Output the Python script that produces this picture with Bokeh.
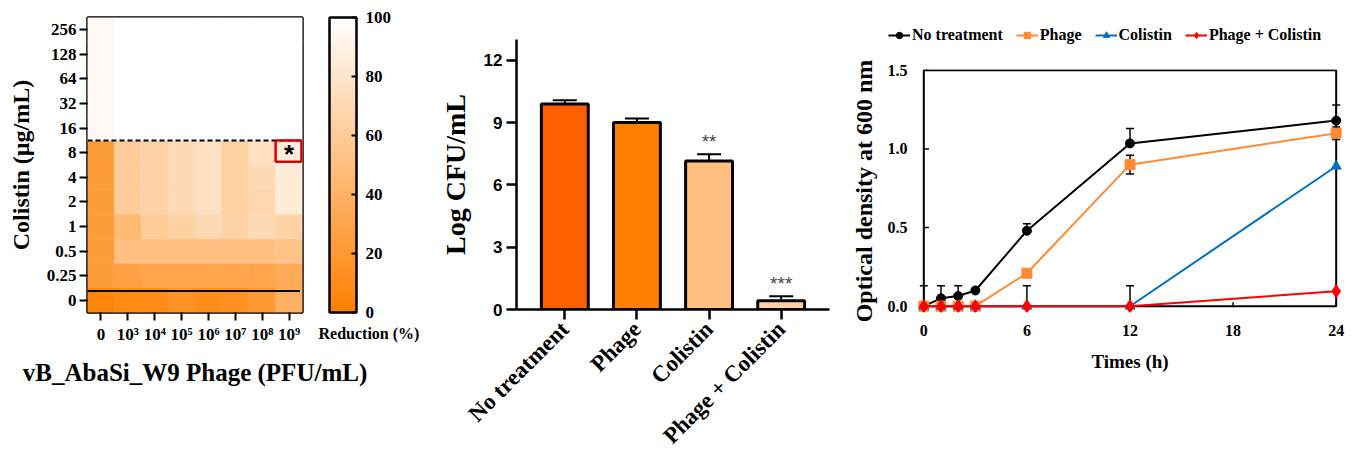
import numpy as np
from bokeh.plotting import figure
from bokeh.layouts import row, column
from bokeh.models import (ColumnDataSource, LinearColorMapper, ColorBar, FixedTicker,
                          Whisker, TeeHead, Legend, LegendItem, PrintfTickFormatter)
from bokeh.embed import file_html
from bokeh.resources import INLINE
from bokeh.core.properties import value

# ---------------- Panel A: checkerboard ----------------
phage_labels = ["0", "10³", "10⁴", "10⁵", "10⁶", "10⁷", "10⁸", "10⁹"]
colistin_labels = ["0", "0.25", "0.5", "1", "2", "4", "8", "16", "32", "64", "128", "256"]
red_0 = [4, 10, 10, 15, 11, 14, 20, 38]
red_025 = [23, 26, 30, 30, 30, 30, 30, 34]
red_05 = [23, 51, 51, 51, 51, 50, 51, 54]
red_1 = [23, 45, 60, 63, 70, 66, 71, 66]
red_2 = [23, 60, 66, 71, 76, 63, 68, 85]
red_4 = [23, 60, 66, 71, 76, 63, 71, 85]
red_8 = [23, 60, 66, 71, 76, 63, 76, 87]
red_16 = [96, 100, 100, 100, 100, 100, 100, 100]
red_32 = [96, 100, 100, 100, 100, 100, 100, 100]
red_64 = [96, 100, 100, 100, 100, 100, 100, 100]
red_128 = [96, 100, 100, 100, 100, 100, 100, 100]
red_256 = [96, 100, 100, 100, 100, 100, 100, 100]
reduction_rows = [red_0, red_025, red_05, red_1, red_2, red_4, red_8,
                  red_16, red_32, red_64, red_128, red_256]
colorbar_ticks = [0, 20, 40, 60, 80, 100]
colorbar_title = "Reduction (%)"
mic_row = 7          # first row fully inhibited (16 µg/mL)
star_cell = (7, 6)   # (phage column, colistin row) marked with *

SERIF = "Liberation Serif"
SANS = "Liberation Sans"

n = 256
palette = ["#%02x%02x%02x" % (255, int(round(127 + 128 * i / (n - 1))), int(round(255 * i / (n - 1))))
           for i in range(n)]
mapper = LinearColorMapper(palette=palette, low=0, high=100)

xs, ys, vs = [], [], []
for r, vals in enumerate(reduction_rows):
    for c, v in enumerate(vals):
        xs.append(c); ys.append(r); vs.append(v)
hsrc = ColumnDataSource(dict(x=xs, y=ys, v=vs))

ncol = len(phage_labels)
nrow = len(colistin_labels)
pa = figure(width=420, height=471, output_backend="svg", toolbar_location=None, title=None,
            x_range=(-0.5, ncol - 0.5), y_range=(-0.5, nrow - 0.5), frame_align=False,
            min_border_left=87, min_border_right=118, min_border_top=17, min_border_bottom=159)
pa.rect("x", "y", 1, 1, source=hsrc, fill_color={"field": "v", "transform": mapper},
        line_color={"field": "v", "transform": mapper}, line_width=0.6)
pa.segment(x0=[-0.5], x1=[ncol - 0.5], y0=[mic_row - 0.5], y1=[mic_row - 0.5],
           line_color="black", line_width=2, line_dash="5 3")
pa.segment(x0=[-0.5], x1=[ncol - 0.6], y0=[0.37], y1=[0.37], line_color="black", line_width=2)
pa.rect(x=[star_cell[0] - 0.02], y=[star_cell[1] + 0.065], width=0.96, height=0.87,
        fill_color=None, line_color="#e00000", line_width=2.5)
pa.text(x=[star_cell[0]], y=[star_cell[1] - 0.05], text=["*"], text_align="center",
        text_baseline="middle", text_font=value(SANS), text_font_size="26px", text_font_style="bold")
pa.outline_line_color = "black"
pa.outline_line_width = 2.5
pa.grid.visible = False
pa.xaxis.ticker = FixedTicker(ticks=list(range(ncol)))
pa.xaxis.major_label_overrides = {i: t for i, t in enumerate(phage_labels)}
pa.yaxis.ticker = FixedTicker(ticks=list(range(nrow)))
pa.yaxis.major_label_overrides = {i: t for i, t in enumerate(colistin_labels)}
for ax in (pa.xaxis[0], pa.yaxis[0]):
    ax.axis_line_color = None
    ax.major_tick_line_width = 2
    ax.major_tick_out = 8
    ax.major_tick_in = 0
    ax.minor_tick_line_color = None
    ax.major_label_text_font = SERIF
    ax.major_label_text_font_style = "bold"
    ax.major_label_text_font_size = "17px"
    ax.major_label_text_color = "black"
    ax.axis_label_text_font = SERIF
    ax.axis_label_text_font_style = "bold"
    ax.axis_label_text_color = "black"
pa.xaxis.axis_label = "vB_AbaSi_W9 Phage (PFU/mL)"
pa.xaxis.axis_label_text_font_size = "25px"
pa.xaxis.major_label_standoff = 4
pa.xaxis.axis_label_standoff = 12
pa.yaxis.axis_label = "Colistin (µg/mL)"
pa.yaxis.axis_label_text_font_size = "24px"
pa.yaxis.major_label_standoff = 3
pa.yaxis.axis_label_standoff = 10

cb = ColorBar(color_mapper=mapper, ticker=FixedTicker(ticks=colorbar_ticks),
              location=(242, 0), width=27, height=295, padding=0, margin=0,
              bar_line_color="black", bar_line_width=2.5,
              major_tick_in=5, major_tick_out=0, major_tick_line_color="black",
              major_tick_line_width=2, label_standoff=9,
              major_label_text_font=SERIF, major_label_text_font_style="bold",
              major_label_text_font_size="17px", major_label_text_color="black",
              border_line_color=None, background_fill_alpha=0)
pa.add_layout(cb)
# title of the colour scale, shown underneath it (carrier bar is invisible)
cb_title = ColorBar(color_mapper=mapper, ticker=FixedTicker(ticks=[]), title=colorbar_title,
                    orientation="horizontal", location=(231, -30), width=4, height=1,
                    padding=0, margin=0, scale_alpha=0, bar_line_color=None,
                    major_tick_line_color=None, title_standoff=0,
                    title_text_font=SERIF, title_text_font_style="bold", title_text_font_size="16px",
                    title_text_color="black", border_line_color=None, background_fill_alpha=0)
pa.add_layout(cb_title)

# ---------------- Panel B: bar chart ----------------
treatments = ["No treatment", "Phage", "Colistin", "Phage + Colistin"]
log_cfu = [9.9, 9.0, 7.15, 0.42]
log_cfu_err = [0.18, 0.2, 0.32, 0.22]
bar_colors = ["#ff6000", "#ff8000", "#ffc080", "#ffd2a6"]
sig_labels = ["", "", "**", "***"]
cfu_ticks = [0, 3, 6, 9, 12]

bx = list(range(len(treatments)))
bsrc = ColumnDataSource(dict(x=bx, top=log_cfu, color=bar_colors,
                             upper=[v + e for v, e in zip(log_cfu, log_cfu_err)],
                             star_y=[v + e + 0.6 for v, e in zip(log_cfu, log_cfu_err)],
                             star=sig_labels))
pb = figure(width=420, height=471, output_backend="svg", toolbar_location=None, title=None,
            x_range=(-0.67, len(treatments) - 0.33), y_range=(0, 13), frame_align=False,
            min_border_left=96, min_border_right=11, min_border_top=39, min_border_bottom=162)
pb.add_layout(Whisker(source=bsrc, base="x", upper="upper", lower="top", dimension="height",
                      line_color="black", line_width=2, lower_head=None,
                      upper_head=TeeHead(size=24, line_color="black", line_width=2)))
pb.vbar(x="x", top="top", width=0.65, source=bsrc, fill_color="color",
        line_color="black", line_width=3)
pb.text(x="x", y="star_y", text="star", source=bsrc, text_align="center", text_baseline="middle",
        text_font=value(SANS), text_font_size="19px", text_color="#454545")
pb.outline_line_color = None
pb.grid.visible = False
pb.xaxis.ticker = FixedTicker(ticks=bx)
pb.xaxis.major_label_overrides = {i: t for i, t in enumerate(treatments)}
pb.xaxis.major_label_orientation = np.pi / 4
pb.yaxis.ticker = FixedTicker(ticks=cfu_ticks)
for ax in (pb.xaxis[0], pb.yaxis[0]):
    ax.axis_line_width = 2.5
    ax.axis_line_color = "black"
    ax.major_tick_line_width = 2.5
    ax.major_tick_out = 10
    ax.major_tick_in = 0
    ax.minor_tick_line_color = None
    ax.major_label_text_color = "black"
pb.xaxis.major_label_text_font = SERIF
pb.xaxis.major_label_text_font_style = "bold"
pb.xaxis.major_label_text_font_size = "23px"
pb.xaxis.major_label_standoff = 6
pb.yaxis.major_label_text_font = SANS
pb.yaxis.major_label_text_font_style = "bold"
pb.yaxis.major_label_text_font_size = "17px"
pb.yaxis.major_label_standoff = 4
pb.yaxis.axis_label = "Log CFU/mL"
pb.yaxis.axis_label_text_font = SERIF
pb.yaxis.axis_label_text_font_style = "bold"
pb.yaxis.axis_label_text_font_size = "28px"
pb.yaxis.axis_label_text_color = "black"
pb.yaxis.axis_label_standoff = 10

# ---------------- Panel C: growth curves ----------------
times = [0, 1, 2, 3, 6, 12, 24]
od_none = [0, 0.05, 0.065, 0.10, 0.48, 1.035, 1.18]
od_none_err = [0.13, 0.08, 0.065, 0, 0.045, 0.095, 0.10]
od_phage = [0, 0, 0, 0, 0.21, 0.90, 1.10]
od_phage_err = [0, 0, 0, 0, 0, 0.06, 0.04]
od_col = [0, 0, 0, 0, 0, 0, 0.89]
od_col_err = [0, 0, 0, 0, 0, 0, 0]
od_combo = [0, 0, 0, 0, 0, 0, 0.095]
od_combo_err = [0, 0, 0, 0, 0.13, 0.13, 0]
series_names = ["No treatment", "Phage", "Colistin", "Phage + Colistin"]
series_colors = ["black", "#ff8a33", "#0070c0", "#ff0000"]
series_markers = ["circle", "square", "triangle", "diamond"]
series_sizes = [9, 10, 10, 13]
time_ticks = [0, 6, 12, 18, 24]
od_ticks = [0, 0.5, 1.0, 1.5]

pc = figure(width=519, height=421, output_backend="svg", toolbar_location=None, title=None,
            x_range=(-0.6, 24.6), y_range=(-0.04, 1.505), frame_align=False,
            min_border_left=73, min_border_right=13, min_border_top=19, min_border_bottom=159)
pc.quad(left=[time_ticks[0]], right=[time_ticks[-1]], bottom=[od_ticks[0]], top=[od_ticks[-1]],
        fill_color=None, line_color="black", line_width=2)
# inward tick marks on the box edges, derived from the tick lists
tick_dx = 0.3
tick_dy = 0.025
pc.segment(x0=time_ticks, x1=time_ticks, y0=[od_ticks[0]] * len(time_ticks),
           y1=[od_ticks[0] + tick_dy] * len(time_ticks), line_color="black", line_width=1.5)
pc.segment(x0=[time_ticks[0]] * len(od_ticks), x1=[time_ticks[0] + tick_dx] * len(od_ticks),
           y0=od_ticks, y1=od_ticks, line_color="black", line_width=1.5)

# legend strip above panel C: same series drawn with ranges that hide them, legend only shows
pl = figure(width=519, height=50, output_backend="svg", toolbar_location=None, title=None,
            x_range=(-2, -1), y_range=(-2, -1), frame_align=False,
            x_axis_location=None, y_axis_location=None,
            min_border_left=0, min_border_right=0, min_border_top=0, min_border_bottom=0)
pl.outline_line_color = None
pl.grid.visible = False

items = []
series = [(od_none, od_none_err, False), (od_phage, od_phage_err, True),
          (od_col, od_col_err, False), (od_combo, od_combo_err, False)]
for (vals, errs, both), name, col, mk, sz in zip(series, series_names, series_colors,
                                                 series_markers, series_sizes):
    et = [t for t, e in zip(times, errs) if e > 0]
    ev = [v for v, e in zip(vals, errs) if e > 0]
    ee = [e for e in errs if e > 0]
    if et:
        esrc = ColumnDataSource(dict(x=et, up=[v + e for v, e in zip(ev, ee)],
                                     lo=[v - e if both else v for v, e in zip(ev, ee)]))
        pc.add_layout(Whisker(source=esrc, base="x", upper="up", lower="lo", dimension="height",
                              line_color="black", line_width=1.5,
                              upper_head=TeeHead(size=8, line_color="black", line_width=1.5),
                              lower_head=TeeHead(size=8, line_color="black", line_width=1.5) if both else None))
    pc.line(times, vals, line_color=col, line_width=2)
    pc.scatter(times, vals, marker=mk, size=sz, fill_color=col, line_color=col)
    lr = pl.line(times, vals, line_color=col, line_width=2)
    sr = pl.scatter(times, vals, marker=mk, size=sz, fill_color=col, line_color=col)
    items.append(LegendItem(label=name, renderers=[lr, sr]))

legend = Legend(items=items, orientation="horizontal", location=(48, 6),
                label_text_font=SERIF, label_text_font_style="bold", label_text_font_size="16px",
                label_text_color="black", glyph_width=22, glyph_height=16, spacing=13,
                padding=0, margin=0, label_standoff=2, border_line_color=None,
                background_fill_alpha=0)
pl.add_layout(legend)

pc.outline_line_color = None
pc.grid.visible = False
pc.xaxis.ticker = FixedTicker(ticks=time_ticks)
pc.yaxis.ticker = FixedTicker(ticks=od_ticks)
pc.yaxis.formatter = PrintfTickFormatter(format="%.1f")
for ax in (pc.xaxis[0], pc.yaxis[0]):
    ax.axis_line_color = None
    ax.major_tick_line_color = None
    ax.minor_tick_line_color = None
    ax.major_tick_in = 0
    ax.major_tick_out = 0
    ax.major_label_text_font = SERIF
    ax.major_label_text_font_style = "bold"
    ax.major_label_text_font_size = "16px"
    ax.major_label_text_color = "black"
    ax.axis_label_text_font = SERIF
    ax.axis_label_text_font_style = "bold"
    ax.axis_label_text_color = "black"
pc.xaxis.major_label_standoff = 12
pc.yaxis.major_label_standoff = 6
pc.xaxis.axis_label = "Times (h)"
pc.xaxis.axis_label_text_font_size = "19px"
pc.xaxis.axis_label_standoff = 12
pc.yaxis.axis_label = "Optical density at 600 nm"
pc.yaxis.axis_label_text_font_size = "24px"
pc.yaxis.axis_label_standoff = 8

layout = row(pa, pb, column(pl, pc))
open("out.html", "w").write(file_html(layout, INLINE))
